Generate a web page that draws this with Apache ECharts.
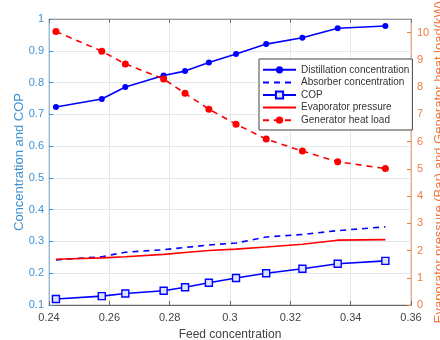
<!DOCTYPE html>
<html>
<head>
<meta charset="utf-8">
<script src="https://cdn.jsdelivr.net/npm/echarts@6/dist/echarts.min.js"></script>
<style>html,body{margin:0;padding:0;background:#fff;}#c{width:440px;height:340px;}</style>
</head>
<body>
<div id="c"></div>
<script>
var feed = [0.2423, 0.2575, 0.2653, 0.278, 0.2851, 0.293, 0.302, 0.312, 0.324, 0.3357, 0.3515];
var distillation = [0.723, 0.748, 0.786, 0.822, 0.836, 0.863, 0.890, 0.921, 0.941, 0.971, 0.978];
var absorber = [0.242, 0.252, 0.266, 0.274, 0.281, 0.289, 0.295, 0.314, 0.322, 0.334, 0.346];
var cop = [0.119, 0.128, 0.136, 0.145, 0.156, 0.170, 0.185, 0.200, 0.214, 0.230, 0.239];
var evapPressure = [1.68, 1.73, 1.77, 1.86, 1.93, 2.00, 2.05, 2.13, 2.23, 2.38, 2.40];
var genHeat = [10.04, 9.32, 8.85, 8.30, 7.77, 7.19, 6.64, 6.09, 5.65, 5.26, 5.01];

function pairs(ys){ return feed.map(function(x,i){ return [x, ys[i]]; }); }

var leftColor = '#3E92D4';
var rightColor = '#EC7A45';
var font = 'Liberation Sans, Arial, sans-serif';

var chart = echarts.init(document.getElementById('c'), null, {renderer:'canvas'});
chart.setOption({
  animation: false,
  backgroundColor: '#fff',
  textStyle: {fontFamily: font},
  grid: {left: 49, right: 29, top: 19, bottom: 35, show: true, borderColor: '#bbbbbb', borderWidth: 1,
         containLabel: false, outerBoundsMode: 'none'},
  legend: {
    orient: 'vertical', left: 259, top: 59,
    padding: [5, 3, 4, 3], itemGap: 1,
    itemWidth: 33, itemHeight: 9,
    backgroundColor: '#fff', borderColor: '#444', borderWidth: 1, borderRadius: 0,
    textStyle: {fontSize: 10, color: '#333', fontFamily: font, lineHeight: 11.6},
    data: [
      {name: 'Distillation concentration'},
      {name: 'Absorber concentration', itemStyle: {opacity: 0}},
      {name: 'COP'},
      {name: 'Evaporator pressure', itemStyle: {opacity: 0}},
      {name: 'Generator heat load'}
    ]
  },
  xAxis: [{
    type: 'value', min: 0.24, max: 0.36, interval: 0.02,
    name: 'Feed concentration', nameLocation: 'middle', nameGap: 24, nameMoveOverlap: false,
    nameTextStyle: {fontSize: 12, color: '#444'},
    axisLine: {show: true, lineStyle: {color: '#666'}},
    axisTick: {show: true, inside: true, length: 4, lineStyle: {color: '#666'}},
    axisLabel: {fontSize: 11, color: '#444', margin: 7},
    splitLine: {show: true, lineStyle: {color: '#e3e8ee'}}
  }, {
    type: 'value', min: 0.24, max: 0.36, interval: 0.02, position: 'top',
    axisLine: {show: true, lineStyle: {color: '#999'}},
    axisTick: {show: true, inside: true, length: 4, lineStyle: {color: '#777'}},
    axisLabel: {show: false}, splitLine: {show: false}
  }],
  yAxis: [{
    type: 'value', min: 0.1, max: 1, interval: 0.1, position: 'left',
    name: 'Concentration and COP', nameLocation: 'middle', nameGap: 23, nameMoveOverlap: false,
    nameTextStyle: {fontSize: 13, color: leftColor},
    axisLine: {show: true, lineStyle: {color: '#8ec0e6'}},
    axisTick: {show: true, inside: true, length: 4, lineStyle: {color: leftColor}},
    axisLabel: {fontSize: 11, color: leftColor, margin: 5, formatter: function(v){ return String(+v.toFixed(2)); }},
    splitLine: {show: true, lineStyle: {color: '#e3e8ee'}}
  }, {
    type: 'value', min: 0, max: 10.5, interval: 1, position: 'right',
    name: 'Evaporator pressure (Bar) and Generator heat load(kW)', nameLocation: 'middle', nameGap: 22,
    nameMoveOverlap: false, nameRotate: 90,
    nameTextStyle: {fontSize: 13, color: rightColor},
    axisLine: {show: true, lineStyle: {color: '#F3A988'}},
    axisTick: {show: true, inside: true, length: 4, lineStyle: {color: rightColor}},
    axisLabel: {fontSize: 11, color: rightColor, margin: 6, showMaxLabel: false},
    splitLine: {show: false}
  }],
  series: [{
    name: 'Distillation concentration', type: 'line', yAxisIndex: 0,
    data: pairs(distillation), symbol: 'circle', symbolSize: 6, showAllSymbol: true,
    lineStyle: {color: '#0000FF', width: 1.6}, itemStyle: {color: '#0000FF'}
  }, {
    name: 'Absorber concentration', type: 'line', yAxisIndex: 0,
    data: pairs(absorber), symbol: 'none', showSymbol: false,
    lineStyle: {color: '#0000FF', width: 1.6, type: [6, 5]}, itemStyle: {color: '#0000FF'}
  }, {
    name: 'COP', type: 'line', yAxisIndex: 0,
    data: pairs(cop), symbol: 'rect', symbolSize: 7,
    lineStyle: {color: '#0000FF', width: 1.6},
    itemStyle: {color: '#dde3ff', borderColor: '#0000FF', borderWidth: 1.4}
  }, {
    name: 'Evaporator pressure', type: 'line', yAxisIndex: 1,
    data: pairs(evapPressure), symbol: 'none', showSymbol: false,
    lineStyle: {color: '#FF0000', width: 1.6}, itemStyle: {color: '#FF0000'}
  }, {
    name: 'Generator heat load', type: 'line', yAxisIndex: 1,
    data: pairs(genHeat), symbol: 'circle', symbolSize: 7,
    lineStyle: {color: '#FF0000', width: 1.6, type: [6, 5]}, itemStyle: {color: '#FF0000'}
  }]
});
</script>
</body>
</html>
